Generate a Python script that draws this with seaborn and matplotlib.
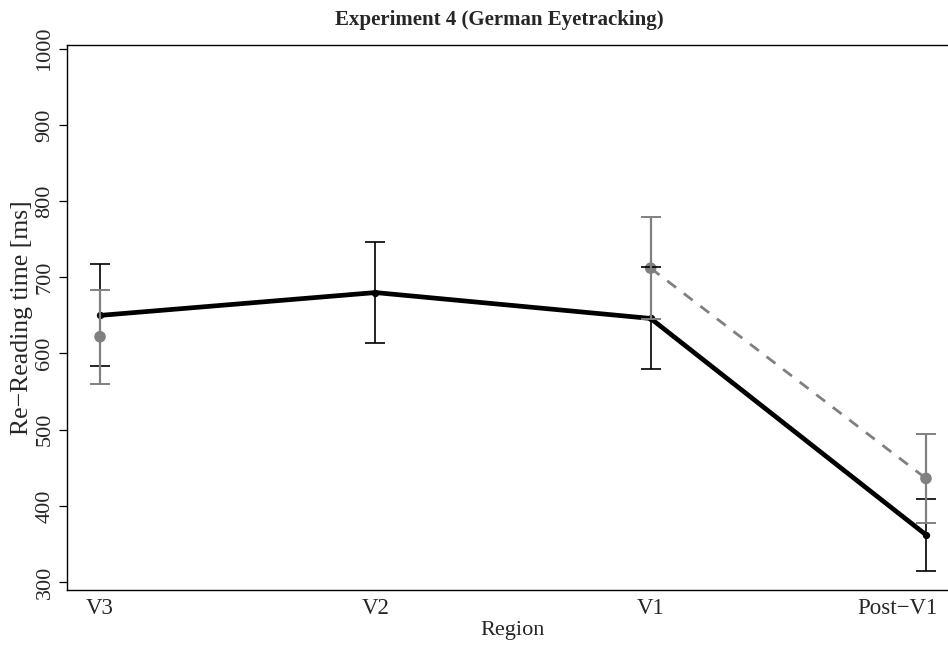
"""
Re-reading times by region, Experiment 4 (German eyetracking).
Black: condition A (solid), grey: condition B (dashed), with error bars.
"""

import numpy as np
import pandas as pd
import matplotlib
matplotlib.use("Agg")
import matplotlib.pyplot as plt
import matplotlib.transforms as mtransforms
import seaborn as sns

# data
regions = ["V3", "V2", "V1", "Post\u2212V1"]
black_mean = [650, 680, 646, 362]
black_err = [67, 66, 67, 47]
grey_mean = [622, np.nan, 712, 436]
grey_err = [62, np.nan, 67, 58]
y_ticks = [300, 400, 500, 600, 700, 800, 900, 1000]

GREY = "#808080"
FONT = ["Liberation Serif", "DejaVu Serif"]


def main():
    sns.set_style("ticks")
    plt.rcParams["font.family"] = FONT

    x = np.arange(len(regions))
    df = pd.DataFrame({"x": x, "black": black_mean, "grey": grey_mean})

    fig = plt.figure(figsize=(9.48, 6.46), dpi=100)
    # plot region runs past the right edge, like the cropped original
    ax = fig.add_axes([67 / 948, 56 / 646, 892 / 948, 545 / 646])

    # grey condition: points and dashed line (broken where value missing)
    ax.plot(df["x"], df["grey"], color=GREY, lw=2.0, ls=(0, (4, 3.5)), zorder=2)
    sns.scatterplot(data=df, x="x", y="grey", color=GREY, s=70, edgecolor="none",
                    ax=ax, zorder=3, legend=False)

    # black condition: thick solid line with small points
    sns.lineplot(data=df, x="x", y="black", color="black", lw=3.4, marker="o",
                 markersize=4.5, markeredgecolor="black", ax=ax, zorder=4,
                 estimator=None, sort=False)

    ax.errorbar(x, black_mean, yerr=black_err, fmt="none", ecolor="black",
                elinewidth=1.2, capsize=7, capthick=1.2, zorder=5)
    ax.errorbar(x, grey_mean, yerr=grey_err, fmt="none", ecolor=GREY,
                elinewidth=1.6, capsize=7, capthick=1.4, zorder=6)

    ax.set_xlim(-0.12, 3.12)
    ax.set_ylim(289.5, 1005)
    ax.set_yticks(y_ticks)
    ax.set_yticklabels([str(v) for v in y_ticks], rotation=90, va="center")
    ax.set_xticks(x)
    # last label drawn separately, nudged left so it stays inside the figure
    ax.set_xticklabels(regions[:-1] + [""])
    shift = mtransforms.ScaledTranslation(-29 / 100, -8 / 100, fig.dpi_scale_trans)
    ax.text(x[-1], 0, regions[-1], transform=ax.get_xaxis_transform() + shift,
            ha="center", va="top", fontsize=16.5)

    ax.tick_params(axis="x", length=0, pad=6, labelsize=16.5)
    ax.tick_params(axis="y", length=6, width=0.9, pad=3, labelsize=16, color="black")

    for side in ["left", "bottom", "top", "right"]:
        ax.spines[side].set_visible(True)
        ax.spines[side].set_color("black")
        ax.spines[side].set_linewidth(1.0)

    ax.set_xlabel("Region", fontsize=16, labelpad=1)
    ax.set_ylabel("Re\u2212Reading time [ms]", fontsize=18.5, labelpad=2)
    fig.text(499 / 948, 1 - 20 / 646, "Experiment 4 (German Eyetracking)",
             ha="center", va="center", fontsize=15, fontweight="bold")

    fig.savefig("out.png", dpi=100)


if __name__ == "__main__":
    main()
